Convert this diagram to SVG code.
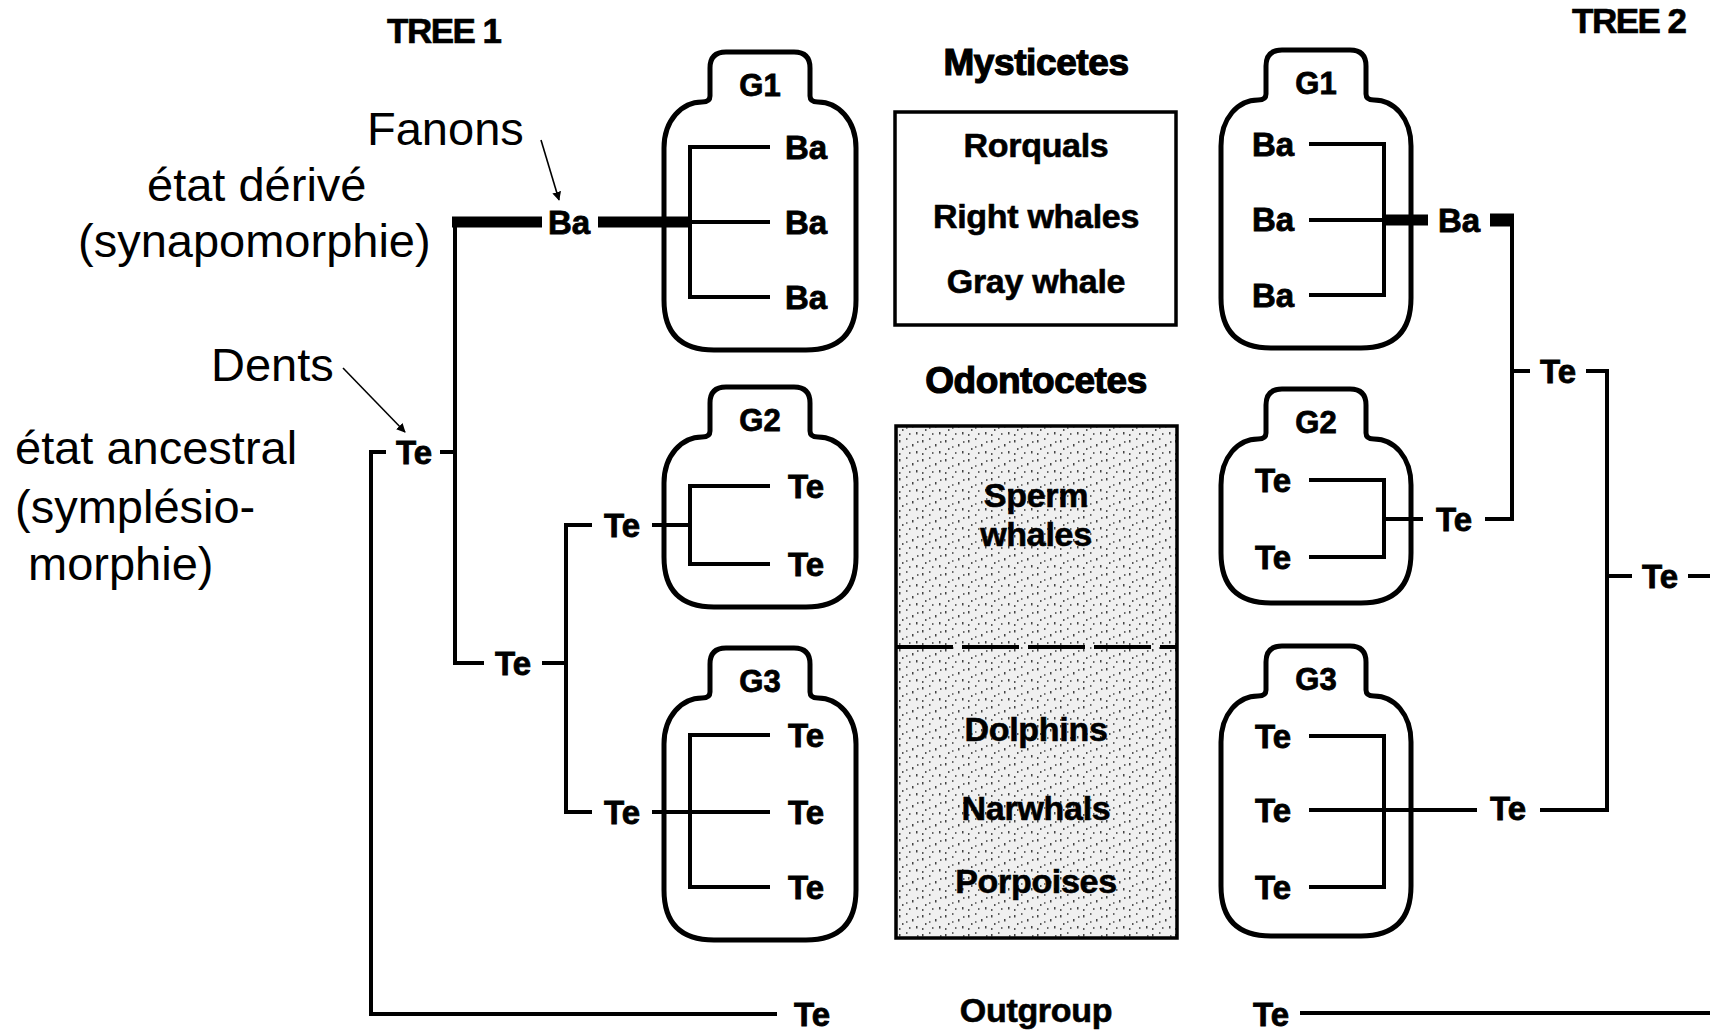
<svg xmlns="http://www.w3.org/2000/svg" width="1710" height="1031" viewBox="0 0 1710 1031">
<style>
.ann{font-family:"Liberation Sans",Arial,sans-serif;font-size:47px;fill:#000}
.lb{font-family:"Liberation Sans",Arial,sans-serif;font-weight:bold;font-size:33px;fill:#000;text-anchor:middle;stroke:#000;stroke-width:0.8}
.gl{font-family:"Liberation Sans",Arial,sans-serif;font-weight:bold;font-size:31px;fill:#000;text-anchor:middle;stroke:#000;stroke-width:0.8}
.tx{font-family:"Liberation Sans",Arial,sans-serif;font-weight:bold;font-size:34px;fill:#000;text-anchor:middle;stroke:#000;stroke-width:0.6;letter-spacing:-0.3px}
.hd{font-family:"Liberation Sans",Arial,sans-serif;font-weight:bold;font-size:37px;fill:#000;text-anchor:middle;stroke:#000;stroke-width:1.2;letter-spacing:-0.4px}
.tt{font-family:"Liberation Sans",Arial,sans-serif;font-weight:bold;font-size:35px;fill:#000;stroke:#000;stroke-width:0.6;letter-spacing:-1.5px}
.bottle{fill:none;stroke:#000;stroke-width:5;stroke-linejoin:round}
.ln{fill:none;stroke:#000;stroke-width:4}
.thk{fill:none;stroke:#000;stroke-width:11}
.arr{fill:none;stroke:#000;stroke-width:1.6}
</style>
<defs>
<marker id="ah" viewBox="0 0 10 10" refX="9" refY="5" markerWidth="9" markerHeight="9" markerUnits="userSpaceOnUse" orient="auto">
<path d="M0,0 L10,5 L0,10 Z" fill="#000"/>
</marker>
<pattern id="stip" width="23" height="19" patternUnits="userSpaceOnUse">
<rect width="23" height="19" fill="#f0f0f0"/>
<rect x="2" y="3" width="1.5" height="2.5" fill="#444"/>
<rect x="9" y="1" width="1.5" height="2" fill="#666"/>
<rect x="15" y="7" width="1.5" height="2.5" fill="#444"/>
<rect x="5" y="11" width="1.5" height="2" fill="#555"/>
<rect x="19" y="14" width="1.5" height="2.5" fill="#444"/>
<rect x="12" y="15" width="1.5" height="2" fill="#666"/>
<rect x="2" y="16" width="1.5" height="2" fill="#555"/>
<rect x="20" y="4" width="1.5" height="2" fill="#666"/>
<rect x="9" y="9" width="1.5" height="2" fill="#777"/>
</pattern>
</defs>
<rect width="1710" height="1031" fill="#fff"/>

<g id="titles">
<text class="tt" x="387" y="43">TREE 1</text>
<text class="tt" x="1572" y="33">TREE 2</text>
</g>

<g id="annotations">
<text class="ann" x="367" y="145">Fanons</text>
<text class="ann" x="147" y="201">état dérivé</text>
<text class="ann" x="78" y="257">(synapomorphie)</text>
<text class="ann" x="211" y="381">Dents</text>
<text class="ann" x="15" y="464">état ancestral</text>
<text class="ann" x="15" y="523">(symplésio-</text>
<text class="ann" x="28" y="580">morphie)</text>
<path class="arr" d="M541,140 L559,200" marker-end="url(#ah)"/>
<path class="arr" d="M343,368 L405,432" marker-end="url(#ah)"/>
</g>

<g id="mysticetes">
<text class="hd" x="1036" y="75">Mysticetes</text>
<rect x="895" y="112" width="281" height="213" fill="none" stroke="#000" stroke-width="3.5"/>
<text class="tx" x="1036" y="157">Rorquals</text>
<text class="tx" x="1036" y="228">Right whales</text>
<text class="tx" x="1036" y="293">Gray whale</text>
</g>

<g id="odontocetes">
<text class="hd" x="1036" y="393">Odontocetes</text>
<rect x="896" y="426" width="281" height="512" fill="url(#stip)" stroke="#000" stroke-width="3.5"/>
<path d="M896,647 H1177" stroke="#000" stroke-width="4" stroke-dasharray="57 9"/>
<text class="tx" x="1036" y="507">Sperm</text>
<text class="tx" x="1036" y="546">whales</text>
<text class="tx" x="1036" y="741">Dolphins</text>
<text class="tx" x="1036" y="820">Narwhals</text>
<text class="tx" x="1036" y="893">Porpoises</text>
</g>

<g id="outgroup">
<text class="tx" x="1036" y="1022">Outgroup</text>
</g>

<g id="tree1-G1">
<path class="bottle" d="M710,96 L710,68 Q710,52 726,52 L794,52 Q810,52 810,68 L810,96 Q810,102 818,102 C838,102 856,120 856,148 L856,300 Q856,350 806,350 L714,350 Q664,350 664,300 L664,148 C664,120 682,102 702,102 Q710,102 710,96 Z"/>
<text class="gl" x="760" y="96">G1</text>
<text class="lb" x="806" y="159">Ba</text>
<text class="lb" x="806" y="234">Ba</text>
<text class="lb" x="806" y="309">Ba</text>
</g>

<g id="tree1-G2">
<path class="bottle" d="M710,431 L710,403 Q710,387 726,387 L794,387 Q810,387 810,403 L810,431 Q810,437 818,437 C838,437 856,455 856,483 L856,557 Q856,607 806,607 L714,607 Q664,607 664,557 L664,483 C664,455 682,437 702,437 Q710,437 710,431 Z"/>
<text class="gl" x="760" y="431">G2</text>
<text class="lb" x="806" y="498">Te</text>
<text class="lb" x="806" y="576">Te</text>
</g>

<g id="tree1-G3">
<path class="bottle" d="M710,692 L710,664 Q710,648 726,648 L794,648 Q810,648 810,664 L810,692 Q810,698 818,698 C838,698 856,716 856,744 L856,890 Q856,940 806,940 L714,940 Q664,940 664,890 L664,744 C664,716 682,698 702,698 Q710,698 710,692 Z"/>
<text class="gl" x="760" y="692">G3</text>
<text class="lb" x="806" y="747">Te</text>
<text class="lb" x="806" y="824">Te</text>
<text class="lb" x="806" y="899">Te</text>
</g>

<g id="tree2-G1">
<path class="bottle" d="M1266,94 L1266,66 Q1266,50 1282,50 L1350,50 Q1366,50 1366,66 L1366,94 Q1366,100 1374,100 C1394,100 1411,118 1411,146 L1411,298 Q1411,348 1361,348 L1271,348 Q1221,348 1221,298 L1221,146 C1221,118 1238,100 1258,100 Q1266,100 1266,94 Z"/>
<text class="gl" x="1316" y="94">G1</text>
<text class="lb" x="1273" y="156">Ba</text>
<text class="lb" x="1273" y="231">Ba</text>
<text class="lb" x="1273" y="307">Ba</text>
</g>

<g id="tree2-G2">
<path class="bottle" d="M1266,433 L1266,405 Q1266,389 1282,389 L1350,389 Q1366,389 1366,405 L1366,433 Q1366,439 1374,439 C1394,439 1411,457 1411,485 L1411,553 Q1411,603 1361,603 L1271,603 Q1221,603 1221,553 L1221,485 C1221,457 1238,439 1258,439 Q1266,439 1266,433 Z"/>
<text class="gl" x="1316" y="433">G2</text>
<text class="lb" x="1273" y="492">Te</text>
<text class="lb" x="1273" y="569">Te</text>
</g>

<g id="tree2-G3">
<path class="bottle" d="M1266,690 L1266,662 Q1266,646 1282,646 L1350,646 Q1366,646 1366,662 L1366,690 Q1366,696 1374,696 C1394,696 1411,714 1411,742 L1411,886 Q1411,936 1361,936 L1271,936 Q1221,936 1221,886 L1221,742 C1221,714 1238,696 1258,696 Q1266,696 1266,690 Z"/>
<text class="gl" x="1316" y="690">G3</text>
<text class="lb" x="1273" y="748">Te</text>
<text class="lb" x="1273" y="822">Te</text>
<text class="lb" x="1273" y="899">Te</text>
</g>

<g id="node-labels">
<text class="lb" x="569" y="234">Ba</text>
<text class="lb" x="414" y="464">Te</text>
<text class="lb" x="513" y="675">Te</text>
<text class="lb" x="622" y="537">Te</text>
<text class="lb" x="622" y="824">Te</text>
<text class="lb" x="812" y="1026">Te</text>
<text class="lb" x="1459" y="232">Ba</text>
<text class="lb" x="1454" y="531">Te</text>
<text class="lb" x="1558" y="383">Te</text>
<text class="lb" x="1660" y="588">Te</text>
<text class="lb" x="1508" y="820">Te</text>
<text class="lb" x="1271" y="1026">Te</text>
</g>

<g id="connectors">
<path class="thk" d="M452,222 H542"/>
<path class="thk" d="M598,222 H690"/>
<path class="ln" d="M690,222 H770"/>
<path class="ln" d="M455,217 V663 H484"/>
<path class="ln" d="M542,663 H566"/>
<path class="ln" d="M592,525 H566 V812 H592"/>
<path class="ln" d="M652,525 H690"/>
<path class="ln" d="M652,812 H770"/>
<path class="ln" d="M386,452 H371 V1014 H777"/>
<path class="ln" d="M440,452 H455"/>
<path class="ln" d="M770,147 H690 V297 H770"/>
<path class="ln" d="M770,486 H690 V564 H770"/>
<path class="ln" d="M770,735 H690 V887 H770"/>

<path class="ln" d="M1309,144 H1384 V295 H1309"/>
<path class="ln" d="M1309,220 H1386"/>
<path class="thk" d="M1386,220 H1428"/>
<path class="thk" d="M1490,220 H1514" style="stroke-width:13"/>
<path class="ln" d="M1512,214 V519 H1485"/>
<path class="ln" d="M1309,480 H1384 V557 H1309"/>
<path class="ln" d="M1384,519 H1423"/>
<path class="ln" d="M1512,371 H1530"/>
<path class="ln" d="M1586,371 H1607 V810 H1540"/>
<path class="ln" d="M1607,576 H1632"/>
<path class="ln" d="M1688,576 H1710"/>
<path class="ln" d="M1309,736 H1384 V887 H1309"/>
<path class="ln" d="M1309,810 H1477"/>
<path class="ln" d="M1300,1013 H1710"/>
</g>
</svg>
